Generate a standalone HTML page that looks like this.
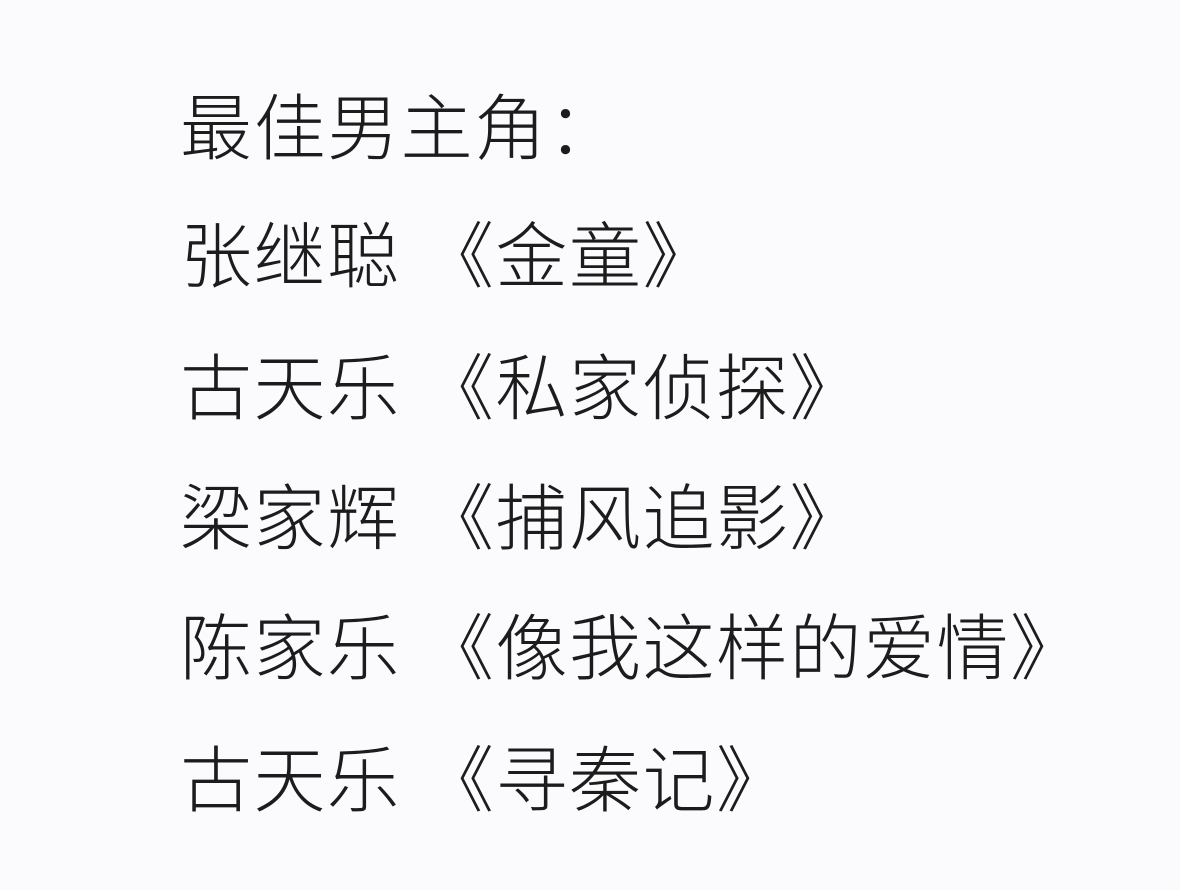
<!DOCTYPE html>
<html><head><meta charset="utf-8"><style>
html,body{margin:0;padding:0;}
body{width:1180px;height:890px;background:#fbfbfd;position:relative;overflow:hidden;
font-family:"Liberation Sans","Noto Sans CJK SC",sans-serif;color:#1c1c1c;}
.l{position:absolute;left:180px;font-size:72px;line-height:72px;white-space:pre;font-weight:300;letter-spacing:1.5px;}
</style></head><body>
<div class="l" style="top:94px">最佳男主角：</div>
<div class="l" style="top:222px">张继聪 《金童》</div>
<div class="l" style="top:354px">古天乐 《私家侦探》</div>
<div class="l" style="top:484px">梁家辉 《捕风追影》</div>
<div class="l" style="top:614px">陈家乐 《像我这样的爱情》</div>
<div class="l" style="top:746px">古天乐 《寻秦记》</div>
</body></html>
